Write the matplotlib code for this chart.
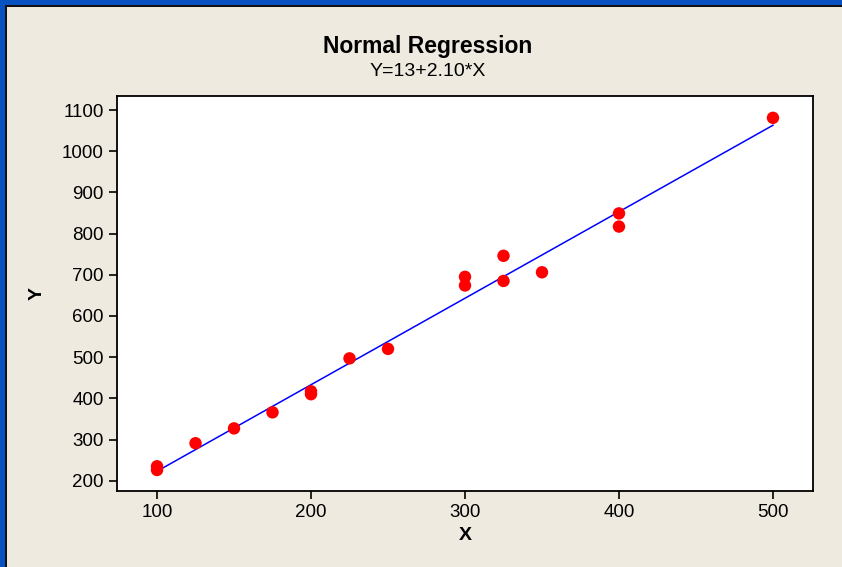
import matplotlib
matplotlib.use("Agg")
import matplotlib.pyplot as plt
from matplotlib.patches import Rectangle
import numpy as np

plt.rcParams["font.family"] = ["Liberation Sans", "DejaVu Sans"]

x = [100, 100, 125, 150, 175, 200, 200, 225, 250, 300, 300, 325, 325, 350, 400, 400, 500]
y = [235, 226, 291, 327, 366, 410, 417, 497, 520, 695, 674, 746, 685, 706, 849, 817, 1081]

# fitted equation from the subtitle
intercept = 13
slope = 2.10

xticks = [100, 200, 300, 400, 500]
yticks = [200, 300, 400, 500, 600, 700, 800, 900, 1000, 1100]

W, H = 842, 567
fig = plt.figure(figsize=(W / 100, H / 100), dpi=100)
fig.patch.set_facecolor("#eeeae0")

# slide frame: blue strips on top and left with a dark inner edge
fig.patches.append(Rectangle((0, 1 - 6 / H), 1, 6 / H, transform=fig.transFigure,
                             facecolor="#0752c0", edgecolor="none", zorder=0))
fig.patches.append(Rectangle((0, 1 - 7 / H), 1, 1.6 / H, transform=fig.transFigure,
                             facecolor="#111111", edgecolor="none", zorder=0))
fig.patches.append(Rectangle((0, 0), 5 / W, 1, transform=fig.transFigure,
                             facecolor="#0752c0", edgecolor="none", zorder=0))
fig.patches.append(Rectangle((5 / W, 0), 1.6 / W, 1 - 6 / H, transform=fig.transFigure,
                             facecolor="#111111", edgecolor="none", zorder=0))

ax = fig.add_axes([117 / W, 1 - 491 / H, (813 - 117) / W, (491 - 96) / H])
ax.set_facecolor("white")

xl = np.array([min(x), max(x)])
ax.plot(xl, intercept + slope * xl, color="#0000ff", lw=1.1, zorder=2)
ax.scatter(x, y, s=80, color="#ff0000", edgecolors="none", zorder=3)

ax.set_xlim(74, 526)
ax.set_ylim(175, 1134)
ax.set_xticks(xticks)
ax.set_yticks(yticks)
ax.tick_params(labelsize=13.5, length=6, width=1.2, direction="out", colors="black")
for s in ax.spines.values():
    s.set_linewidth(1.3)
    s.set_color("black")

ax.set_xlabel("X", fontsize=14, fontweight="bold", labelpad=4)
ax.set_ylabel("Y", fontsize=14, fontweight="bold", labelpad=12)

fig.text(428 / W, 1 - 46 / H, "Normal Regression", ha="center", va="center",
         fontsize=16.5, fontweight="bold")
fig.text(428 / W, 1 - 72 / H, "Y=13+2.10*X", ha="center", va="center", fontsize=14)

plt.savefig("out.png", dpi=100, facecolor=fig.get_facecolor())
